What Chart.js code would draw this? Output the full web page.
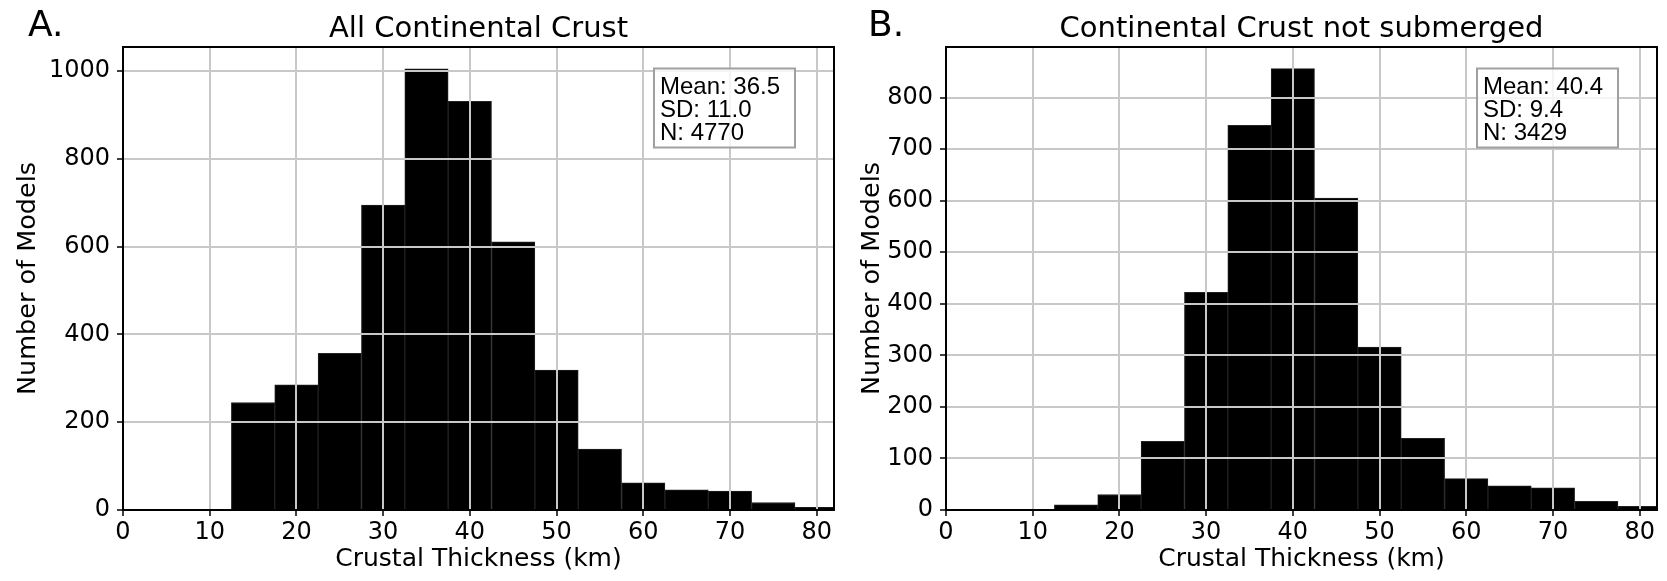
<!DOCTYPE html>
<html>
<head>
<meta charset="utf-8">
<script src="https://cdn.jsdelivr.net/npm/chart.js@4.4.0/dist/chart.umd.min.js"></script>
<style>
  html, body { margin: 0; padding: 0; background: #fff; }
  #wrapA { position: absolute; left: 0; top: 0; width: 840px; height: 581px; }
  #wrapB { position: absolute; left: 840px; top: 0; width: 827px; height: 581px; }
</style>
</head>
<body>
<div id="wrapA"><canvas id="chartA" width="840" height="581"></canvas></div>
<div id="wrapB"><canvas id="chartB" width="827" height="581"></canvas></div>
<script>
// histogram bins (5 km wide, centres)
var binCenters = [15, 20, 25, 30, 35, 40, 45, 50, 55, 60, 65, 70, 75, 80];
var countsAll = [245, 285, 357, 695, 1005, 931, 611, 319, 139, 62, 46, 43, 17, 6];
var countsNotSubmerged = [10, 30, 133, 422, 746, 856, 605, 316, 139, 61, 47, 43, 17, 7];

var xTicks = [0, 10, 20, 30, 40, 50, 60, 70, 80];
var yTicksAll = [0, 200, 400, 600, 800, 1000];
var yTicksNotSubmerged = [0, 100, 200, 300, 400, 500, 600, 700, 800];

var statsAll = ['Mean: 36.5', 'SD: 11.0', 'N: 4770'];
var statsNotSubmerged = ['Mean: 40.4', 'SD: 9.4', 'N: 3429'];

Chart.defaults.font.family = 'DejaVu Sans';
Chart.defaults.color = '#000';

// titles, panel letter, frame and the stats box
var decorPlugin = {
  id: 'decor',
  afterDraw: function(chart) {
    var ctx = chart.ctx;
    var a = chart.chartArea;
    var o = chart.options.plugins.decor;
    ctx.save();
    ctx.fillStyle = '#000';
    ctx.textBaseline = 'alphabetic';
    ctx.font = '36px "DejaVu Sans"';
    ctx.textAlign = 'left';
    ctx.fillText(o.letter, 28, 36);
    ctx.font = '29px "DejaVu Sans"';
    ctx.textAlign = 'center';
    ctx.fillText(o.title, (a.left + a.right) / 2, 37);

    // frame
    ctx.strokeStyle = '#000';
    ctx.lineWidth = 2;
    ctx.strokeRect(a.left, a.top, a.right - a.left, a.bottom - a.top);

    // stats box
    var bw = 141, bh = 79;
    var bx = a.right - 39 - bw;
    var by = a.top + 21.5;
    ctx.fillStyle = 'rgba(255,255,255,0.8)';
    ctx.fillRect(bx, by, bw, bh);
    ctx.strokeStyle = '#a0a0a0';
    ctx.lineWidth = 2;
    ctx.strokeRect(bx, by, bw, bh);
    ctx.fillStyle = '#000';
    ctx.font = '24px "Liberation Sans"';
    ctx.textAlign = 'left';
    for (var i = 0; i < o.stats.length; i++) {
      ctx.fillText(o.stats[i], bx + 6, by + 25 + i * 23.4);
    }
    ctx.restore();
  }
};

function plainLabel(v) { return String(v); }

function makeChart(id, counts, yTicks, yMax, opts) {
  var points = [];
  for (var i = 0; i < binCenters.length; i++) {
    points.push({x: binCenters[i], y: counts[i]});
  }
  return new Chart(document.getElementById(id), {
    type: 'bar',
    data: {
      datasets: [{
        data: points,
        backgroundColor: '#000',
        borderColor: '#222',
        borderWidth: 1,
        barPercentage: 1,
        categoryPercentage: 1,
        clip: 0
      }]
    },
    options: {
      responsive: false,
      animation: false,
      events: [],
      layout: { padding: { left: 0, top: 47, right: opts.padRight, bottom: 0 } },
      plugins: {
        legend: { display: false },
        tooltip: { enabled: false },
        decor: { letter: opts.letter, title: opts.title, stats: opts.stats }
      },
      scales: {
        x: {
          type: 'linear',
          min: 0,
          max: 82,
          offset: false,
          grid: { z: 1, offset: false, color: '#c8c8c8', lineWidth: 2, tickColor: '#000', tickWidth: 1.5, tickLength: 6 },
          border: { z: 2, color: '#000', width: 2 },
          ticks: { font: { size: 24 }, padding: 2, maxRotation: 0, callback: plainLabel },
          afterBuildTicks: function(scale) {
            scale.ticks = xTicks.map(function(v) { return {value: v}; });
          },
          afterFit: function(scale) { scale.height = 71; },
          title: { display: true, text: 'Crustal Thickness (km)', font: { size: 25 }, padding: { top: 0, bottom: 6.5 } }
        },
        y: {
          min: 0,
          max: yMax,
          grid: { z: 1, color: '#c8c8c8', lineWidth: 2, tickColor: '#000', tickWidth: 1.5, tickLength: 6 },
          border: { z: 2, color: '#000', width: 2 },
          ticks: { font: { size: 24 }, padding: 7, callback: plainLabel },
          afterBuildTicks: function(scale) {
            scale.ticks = yTicks.map(function(v) { return {value: v}; });
          },
          afterFit: function(scale) { scale.width = opts.axisWidth; },
          title: { display: true, text: 'Number of Models', font: { size: 25.5 }, padding: { top: opts.titlePad, bottom: 0 } }
        }
      }
    },
    plugins: [decorPlugin]
  });
}

makeChart('chartA', countsAll, yTicksAll, 1055, {
  letter: 'A.', title: 'All Continental Crust', stats: statsAll,
  padRight: 6, axisWidth: 123, titlePad: 12.7
});
makeChart('chartB', countsNotSubmerged, yTicksNotSubmerged, 898, {
  letter: 'B.', title: 'Continental Crust not submerged', stats: statsNotSubmerged,
  padRight: 10, axisWidth: 106, titlePad: 16.7
});
</script>
</body>
</html>
